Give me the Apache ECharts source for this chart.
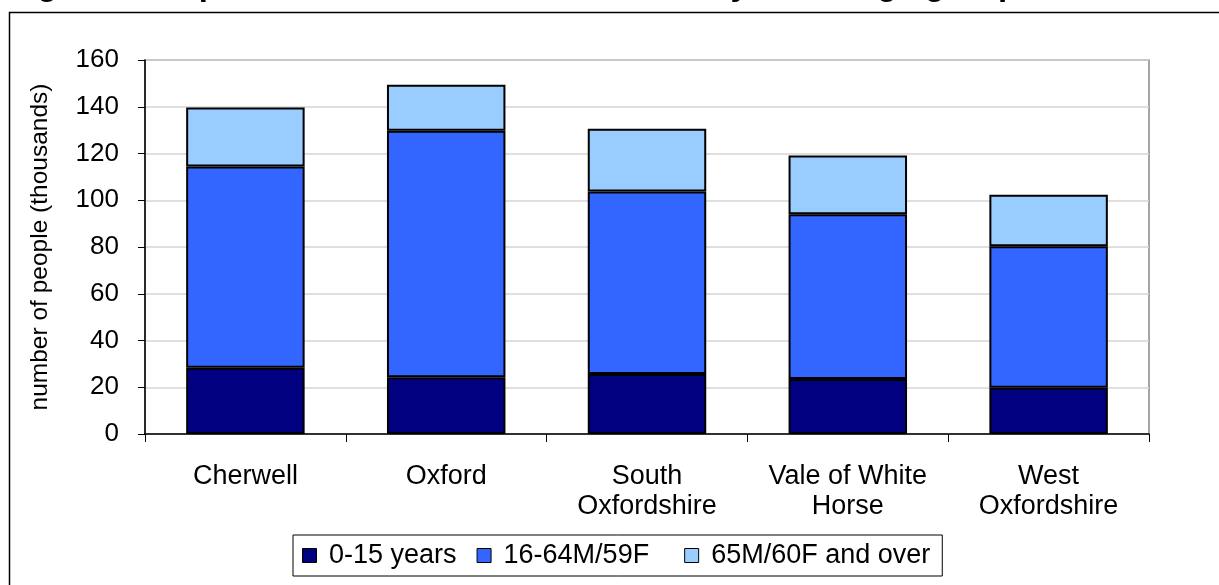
<!DOCTYPE html>
<html>
<head>
<meta charset="utf-8">
<script src="https://cdn.jsdelivr.net/npm/echarts@6/dist/echarts.min.js"></script>
<style>
  html, body { margin: 0; padding: 0; background: #fff; }
  #main { width: 1219px; height: 585px; }
</style>
</head>
<body>
<div id="main"></div>
<script>
// districts and age groups (thousands of people)
const districts = ['Cherwell', 'Oxford', 'South\nOxfordshire', 'Vale of White\nHorse', 'West\nOxfordshire']
const ageGroups = ['0-15 years', '16-64M/59F', '65M/60F and over']
const young = [28.3, 24.3, 25.7, 23.5, 19.8]
const working = [86.1, 105.4, 78.0, 70.5, 60.5]
const older = [25.3, 19.7, 26.9, 25.1, 22.0]
const yTicks = [0, 160, 20]

const colors = ['#000080', '#3366FF', '#99CCFF']
const font = 'Arial, "Liberation Sans", sans-serif'

let chart = echarts.init(document.getElementById('main'))

let seriesData = [young, working, older]
let series = ageGroups.map(function (name, i) {
  return {
    name: name,
    type: 'bar',
    stack: 'total',
    barWidth: '59%',
    data: seriesData[i],
    itemStyle: {
      color: colors[i],
      borderColor: '#000',
      borderWidth: 2
    },
    emphasis: { disabled: true }
  }
})

let option = {
  backgroundColor: '#fff',
  animation: false,
  textStyle: { fontFamily: font, color: '#000' },
  graphic: [
    {
      // outer chart frame, runs off the right and bottom edges
      type: 'rect',
      shape: { x: 9.5, y: 12.5, width: 1260, height: 620 },
      style: { fill: 'none', stroke: '#000', lineWidth: 1.5 },
      z: 0
    },
    {
      // title, mostly cut off by the top edge
      type: 'text',
      x: 8,
      y: 2,
      style: {
        text: 'Figure 1: Population of Oxfordshire districts by broad age group, 2006',
        font: 'bold 33px ' + font,
        fill: '#000',
        textVerticalAlign: 'bottom'
      },
      z: 10
    }
  ],
  grid: {
    left: 145,
    right: 70,
    top: 60,
    bottom: 151,
    show: true,
    borderColor: '#888',
    borderWidth: 1.5,
    backgroundColor: 'transparent'
  },
  legend: {
    data: ageGroups,
    left: 293,
    top: 535,
    orient: 'horizontal',
    itemWidth: 14,
    itemHeight: 14,
    itemGap: 20,
    padding: [7, 12, 7, 9],
    borderColor: '#000',
    borderWidth: 1,
    icon: 'rect',
    formatter: function (name) {
      return name === ageGroups[1] ? ' ' + name + '  ' : ' ' + name
    },
    textStyle: { fontSize: 27, fontFamily: font, color: '#000' },
    itemStyle: { borderColor: '#000', borderWidth: 1 },
    selectedMode: false
  },
  xAxis: {
    type: 'category',
    data: districts,
    axisLine: { lineStyle: { color: '#000', width: 1.5 } },
    axisTick: { show: true, length: 8, lineStyle: { color: '#000' } },
    axisLabel: {
      fontSize: 27,
      lineHeight: 30,
      margin: 28,
      color: '#000',
      interval: 0
    }
  },
  yAxis: {
    type: 'value',
    min: yTicks[0],
    max: yTicks[1],
    interval: yTicks[2],
    name: 'number of people (thousands)',
    nameLocation: 'middle',
    nameGap: 92,
    nameTextStyle: { fontSize: 24.5, color: '#000', fontFamily: font },
    axisLine: { show: true, lineStyle: { color: '#000', width: 1.5 } },
    axisTick: { show: true, inside: false, length: 7, lineStyle: { color: '#000' } },
    axisLabel: { fontSize: 26, margin: 26, color: '#000' },
    splitLine: { lineStyle: { color: '#d4d4d4', width: 1.5 } }
  },
  series: series
}

chart.setOption(option)
</script>
</body>
</html>
